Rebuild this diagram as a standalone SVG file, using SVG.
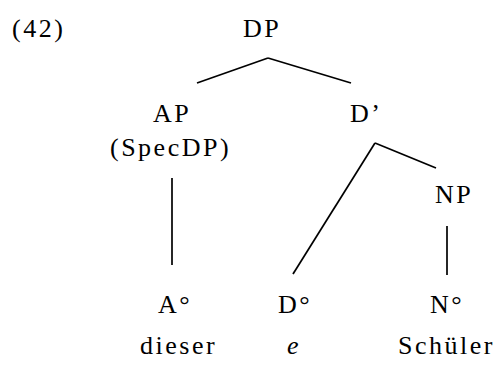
<svg xmlns="http://www.w3.org/2000/svg" width="499" height="365" viewBox="0 0 499 365">
<style>
text{font-family:"Liberation Serif","Times New Roman",serif;font-size:26px;letter-spacing:2.5px;fill:#000}
.e{font-style:italic}
#edges line{stroke:#000;stroke-width:1.7;stroke-linecap:butt}
</style>
<rect width="499" height="365" fill="#fff"/>
<text id="label" x="12" y="37">(42)</text>
<g id="edges">
<line x1="268" y1="58" x2="197" y2="83"/>
<line x1="268" y1="58" x2="351" y2="83"/>
<line x1="172" y1="178" x2="172" y2="265"/>
<line x1="375" y1="143" x2="293" y2="274"/>
<line x1="375" y1="143" x2="436" y2="168"/>
<line x1="447" y1="226" x2="447" y2="275"/>
</g>
<g id="DP"><text x="243" y="37">DP</text></g>
<g id="AP"><text x="153" y="122">AP</text><text x="110" y="156">(SpecDP)</text></g>
<g id="Dbar"><text x="350" y="122">D’</text></g>
<g id="NP"><text x="435" y="203">NP</text></g>
<g id="A0"><text x="158" y="313">A°</text><text x="140" y="354">dieser</text></g>
<g id="D0"><text x="278" y="313">D°</text><text class="e" x="287" y="354">e</text></g>
<g id="N0"><text x="430" y="313">N°</text><text x="398" y="354">Schüler</text></g>
</svg>
